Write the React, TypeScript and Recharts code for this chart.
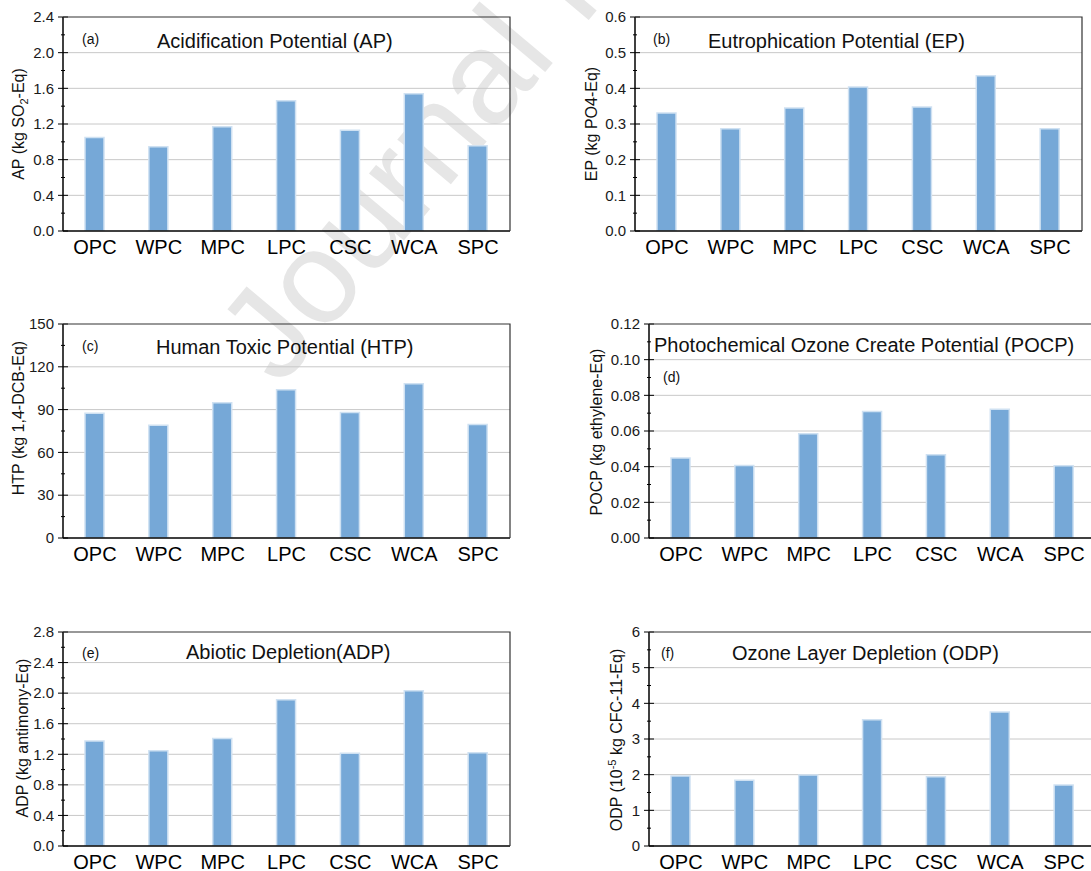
import React from 'react';
import { BarChart, Bar, XAxis, YAxis, CartesianGrid } from 'recharts';

// categories shared by every panel
const categories = ['OPC', 'WPC', 'MPC', 'LPC', 'CSC', 'WCA', 'SPC'];

// values
const apValues = [1.05, 0.945, 1.17, 1.46, 1.13, 1.54, 0.955];
const epValues = [0.331, 0.287, 0.345, 0.404, 0.348, 0.435, 0.287];
const htpValues = [87.5, 79, 94.8, 104, 88, 108.2, 79.5];
const pocpValues = [0.0448, 0.0406, 0.0584, 0.0709, 0.0467, 0.0722, 0.0405];
const adpValues = [1.375, 1.245, 1.405, 1.915, 1.215, 2.03, 1.22];
const odpValues = [1.96, 1.84, 1.99, 3.54, 1.94, 3.76, 1.71];

// major tick labels
const apTicks = [0, 0.4, 0.8, 1.2, 1.6, 2.0, 2.4];
const epTicks = [0, 0.1, 0.2, 0.3, 0.4, 0.5, 0.6];
const htpTicks = [0, 30, 60, 90, 120, 150];
const pocpTicks = [0, 0.02, 0.04, 0.06, 0.08, 0.1, 0.12];
const adpTicks = [0, 0.4, 0.8, 1.2, 1.6, 2.0, 2.4, 2.8];
const odpTicks = [0, 1, 2, 3, 4, 5, 6];

const withMinor = (major: number[]) => {
  const out: number[] = [];
  major.forEach((v, i) => {
    out.push(v);
    if (i < major.length - 1) out.push((v + major[i + 1]) / 2);
  });
  return out;
};

const FONT = "'Liberation Sans', Arial, Helvetica, sans-serif";
const PW = 447;
const PH = 214;
const ML = 65;
const MT = 15;

function YTick(props: any) {
  const { x, y, payload, majors, digits } = props;
  const v = payload.value;
  const major = majors.some((m: number) => Math.abs(m - v) < 1e-9);
  const half = major ? 5 : 2;
  return (
    <g>
      <line x1={x - half} x2={x + half} y1={y} y2={y} stroke="#000" strokeWidth={1} />
      {major && (
        <text x={x - 9} y={y} dy="0.35em" textAnchor="end" fontSize={15} fill="#1a1a1a" fontFamily={FONT}>
          {v.toFixed(digits)}
        </text>
      )}
    </g>
  );
}

const panels = [
  { key: 'a', values: apValues, ticks: apTicks, digits: 1, left: 63, top: 17 },
  { key: 'b', values: epValues, ticks: epTicks, digits: 1, left: 635, top: 17 },
  { key: 'c', values: htpValues, ticks: htpTicks, digits: 0, left: 63, top: 324 },
  { key: 'd', values: pocpValues, ticks: pocpTicks, digits: 2, left: 649, top: 324 },
  { key: 'e', values: adpValues, ticks: adpTicks, digits: 1, left: 63, top: 632 },
  { key: 'f', values: odpValues, ticks: odpTicks, digits: 0, left: 649, top: 632 },
];

function Panel({ p }: { p: (typeof panels)[number] }) {
  const data = categories.map((name, i) => ({ name, value: p.values[i] }));
  const ticks = withMinor(p.ticks);
  const domain = [p.ticks[0], p.ticks[p.ticks.length - 1]];
  return (
    <div style={{ position: 'absolute', left: p.left - ML, top: p.top - MT }}>
      <BarChart
        width={ML + PW + 5}
        height={MT + PH + 35}
        data={data}
        margin={{ top: MT, right: 5, bottom: 5, left: 5 }}
      >
        <CartesianGrid vertical={false} horizontalValues={p.ticks.slice(1, -1)} stroke="#c8c8c8" />
        <XAxis
          dataKey="name"
          height={30}
          interval={0}
          tickLine={false}
          tickSize={0}
          tickMargin={9}
          axisLine={{ stroke: '#000', strokeWidth: 1.5 }}
          tick={{ fontSize: 20, fill: '#000', fontFamily: FONT }}
        />
        <YAxis
          type="number"
          width={60}
          domain={domain}
          ticks={ticks}
          interval={0}
          allowDataOverflow
          tickLine={false}
          tickSize={0}
          tickMargin={0}
          axisLine={{ stroke: '#000', strokeWidth: 1.5 }}
          tick={<YTick majors={p.ticks} digits={p.digits} />}
        />
        <Bar dataKey="value" fill="#76A8D7" stroke="#CFE1F2" strokeWidth={1.5} barSize={19} isAnimationActive={false} />
      </BarChart>
    </div>
  );
}

export default function App() {
  return (
    <div style={{ position: 'absolute', left: 0, top: 0, width: 1091, height: 871, overflow: 'hidden', background: '#fff', fontFamily: FONT }}>
      <svg width={1091} height={871} style={{ position: 'absolute', left: 0, top: 0 }}>
        <text x={280} y={388} fontSize={132} fill="#e6e6e6" fontFamily={FONT} transform="rotate(-50 280 388)">
          Journal Pre-proof
        </text>
      </svg>
      {panels.map((p) => (
        <Panel key={p.key} p={p} />
      ))}
      <svg width={1091} height={871} style={{ position: 'absolute', left: 0, top: 0, pointerEvents: 'none' }} fontFamily={FONT} fill="#111">
        {panels.map((p) => (
          <polyline
            key={p.key}
            points={`${p.left},${p.top} ${p.left + PW},${p.top} ${p.left + PW},${p.top + PH}`}
            fill="none"
            stroke="#333"
            strokeWidth={1.2}
          />
        ))}
        <text x={82} y={44} fontSize={14}>(a)</text>
        <text x={157} y={48} fontSize={20}>Acidification Potential (AP)</text>
        <text x={653} y={44} fontSize={14}>(b)</text>
        <text x={708} y={48} fontSize={20}>Eutrophication Potential (EP)</text>
        <text x={82} y={351} fontSize={14}>(c)</text>
        <text x={156} y={354} fontSize={20}>Human Toxic Potential (HTP)</text>
        <text x={663} y={382} fontSize={14}>(d)</text>
        <text x={654} y={352} fontSize={20}>Photochemical Ozone Create Potential (POCP)</text>
        <text x={82} y={658} fontSize={14}>(e)</text>
        <text x={186} y={659} fontSize={20}>Abiotic Depletion(ADP)</text>
        <text x={661} y={658} fontSize={14}>(f)</text>
        <text x={732} y={660} fontSize={20}>Ozone Layer Depletion (ODP)</text>

        <text x={18} y={124} fontSize={16} textAnchor="middle" dy="0.35em" transform="rotate(-90 18 124)">
          AP (kg SO<tspan fontSize={11} dy={4}>2</tspan><tspan dy={-4}>-Eq)</tspan>
        </text>
        <text x={591} y={124} fontSize={16} textAnchor="middle" dy="0.35em" transform="rotate(-90 591 124)">
          EP (kg PO4-Eq)
        </text>
        <text x={18} y={418} fontSize={16} textAnchor="middle" dy="0.35em" transform="rotate(-90 18 418)">
          HTP (kg 1,4-DCB-Eq)
        </text>
        <text x={596} y={432} fontSize={16} textAnchor="middle" dy="0.35em" transform="rotate(-90 596 432)">
          POCP (kg ethylene-Eq)
        </text>
        <text x={22} y={738} fontSize={16} textAnchor="middle" dy="0.35em" transform="rotate(-90 22 738)">
          ADP (kg antimony-Eq)
        </text>
        <text x={616} y={740} fontSize={16} textAnchor="middle" dy="0.35em" transform="rotate(-90 616 740)">
          ODP (10<tspan fontSize={11} dy={-6}>-5</tspan><tspan dy={6}> kg CFC-11-Eq)</tspan>
        </text>
      </svg>
    </div>
  );
}
